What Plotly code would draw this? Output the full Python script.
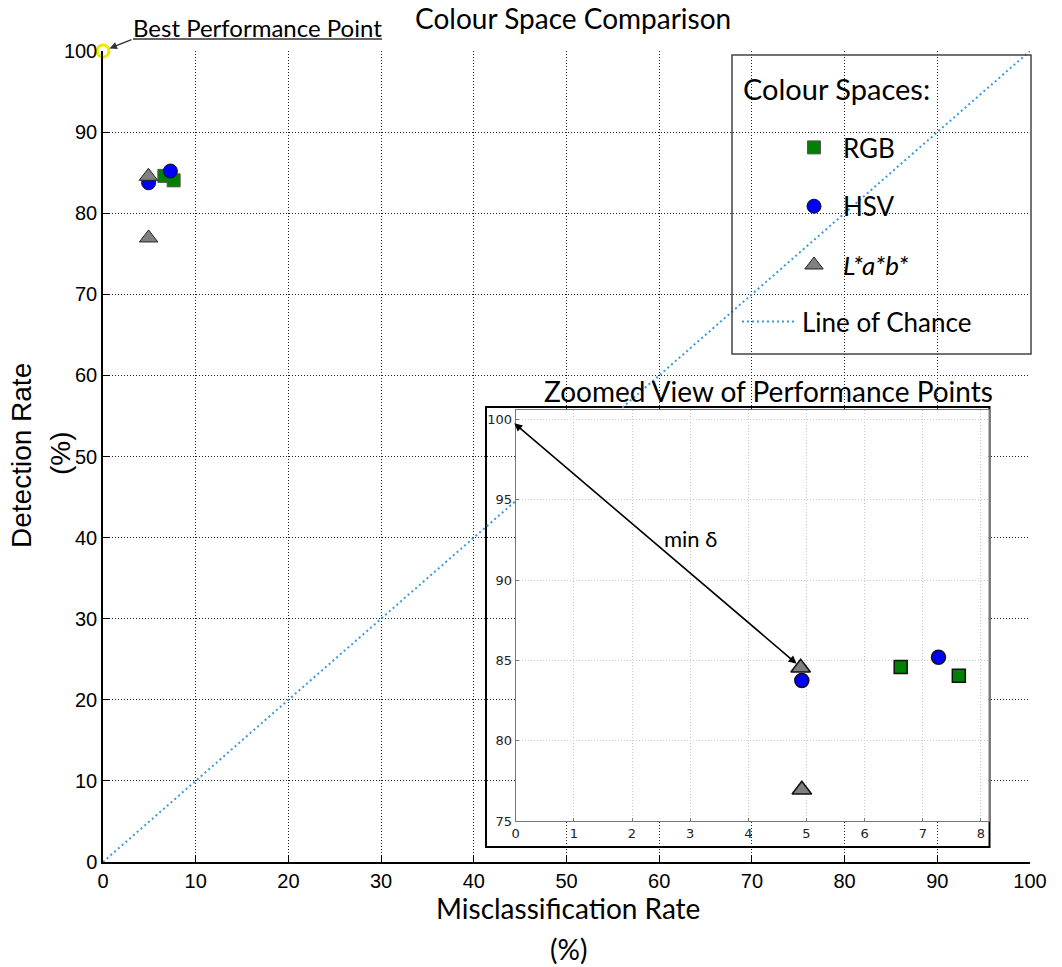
import plotly.graph_objects as go

# ---- data ----
rgb_x = [6.62, 7.62]
rgb_y = [84.6, 84.05]
hsv_x = [4.92, 7.27]
hsv_y = [83.75, 85.2]
lab_x = [4.90, 4.92]
lab_y = [84.55, 76.95]
best_x = [0]
best_y = [100]
chance_x = [0, 100]
chance_y = [0, 100]

main_ticks = list(range(0, 101, 10))
inset_xticks = list(range(0, 9))
inset_yticks = [75, 80, 85, 90, 95, 100]

CAL = "Lato, 'Open Sans', sans-serif"
ARIAL = "'Liberation Sans', Arial, sans-serif"

L, R, T, B = 103, 32, 51, 105
W, H = 1062, 967
PW, PH = W - L - R, H - T - B


def px(x):
    return (x - L) / PW


def py(y):
    return (H - B - y) / PH


fig = go.Figure()

# ---- main subplot ----
fig.add_trace(go.Scatter(x=chance_x, y=chance_y, mode="lines", name="Line of Chance",
                         line=dict(color="#3b9ad8", width=2, dash="2px,3px"),
                         legend="legend2", showlegend=True))
fig.add_trace(go.Scatter(x=rgb_x, y=rgb_y, mode="markers", name="RGB",
                         marker=dict(symbol="square", size=13, color="#008000",
                                     line=dict(color="#555", width=1)),
                         legendgroup="rgb"))
fig.add_trace(go.Scatter(x=hsv_x, y=hsv_y, mode="markers", name="HSV",
                         marker=dict(symbol="circle", size=14, color="#0000ff",
                                     line=dict(color="#111", width=1)),
                         legendgroup="hsv"))
fig.add_trace(go.Scatter(x=lab_x, y=lab_y, mode="markers", name="<i>L*a*b*</i>",
                         marker=dict(symbol="triangle-up", size=16, color="#808080",
                                     line=dict(color="#222", width=1)),
                         legendgroup="lab"))
fig.add_trace(go.Scatter(x=best_x, y=best_y, mode="markers", showlegend=False,
                         cliponaxis=False,
                         marker=dict(symbol="circle", size=12, color="white",
                                     line=dict(color="#f2e600", width=3))))

# ---- inset subplot ----
fig.add_trace(go.Scatter(x=rgb_x, y=rgb_y, mode="markers", xaxis="x2", yaxis="y2",
                         showlegend=False,
                         marker=dict(symbol="square", size=13, color="#008000",
                                     line=dict(color="#111", width=1.5))))
fig.add_trace(go.Scatter(x=hsv_x, y=hsv_y, mode="markers", xaxis="x2", yaxis="y2",
                         showlegend=False,
                         marker=dict(symbol="circle", size=14, color="#0000ff",
                                     line=dict(color="#111", width=1.5))))
fig.add_trace(go.Scatter(x=lab_x, y=lab_y, mode="markers", xaxis="x2", yaxis="y2",
                         showlegend=False,
                         marker=dict(symbol="triangle-up", size=17, color="#808080",
                                     line=dict(color="#111", width=1.5))))

# closest point to the best performance point
pts = list(zip(rgb_x + hsv_x + lab_x, rgb_y + hsv_y + lab_y))
mx, my = min(pts, key=lambda p: (p[0] - best_x[0]) ** 2 + (p[1] - best_y[0]) ** 2)

axis_main = dict(range=[0, 100], tickvals=main_ticks, showline=True, linecolor="black",
                 linewidth=1.5, ticks="inside", ticklen=7, tickcolor="black",
                 showgrid=True, gridcolor="#222", griddash="1px,2px", gridwidth=1,
                 zeroline=False, tickfont=dict(family=ARIAL, size=20, color="black"))
IX0, IX1 = 515.7, 988.5
IY0, IY1 = 821, 410
inset_axis = dict(showline=True, mirror=True, linecolor="#777", linewidth=1.2,
                  ticks="inside", ticklen=3, tickcolor="#777", showgrid=True,
                  gridcolor="#c8c8c8", griddash="1px,2px", zeroline=False,
                  tickfont=dict(family="DejaVu Sans", size=13, color="#222"))
fig.update_layout(
    width=W, height=H,
    margin=dict(l=L, r=R, t=T, b=B),
    paper_bgcolor="white", plot_bgcolor="white",
    xaxis=dict(axis_main, domain=[0, 1]),
    yaxis=dict(axis_main, domain=[0, 1]),
    xaxis2=dict(inset_axis, domain=[px(IX0), px(IX1)], anchor="y2", range=[0, 8.13],
                tickvals=inset_xticks),
    yaxis2=dict(inset_axis, domain=[py(IY0), py(IY1)], anchor="x2", range=[75, 100.6],
                tickvals=inset_yticks),
    showlegend=True,
    legend=dict(x=px(785), y=py(124), xanchor="left", yanchor="top",
                bgcolor="rgba(0,0,0,0)", borderwidth=0, tracegroupgap=22, itemwidth=48,
                font=dict(family=CAL, size=26, color="black"), itemsizing="trace"),
    legend2=dict(x=px(737), y=py(298), xanchor="left", yanchor="top",
                 bgcolor="rgba(0,0,0,0)", borderwidth=0, itemwidth=55,
                 font=dict(family=CAL, size=26, color="black")),
)

fig.update_layout(shapes=[
    # white backing + border of the inset
    dict(type="rect", xref="x2 domain", yref="y2 domain",
         x0=(486 - IX0) / (IX1 - IX0), x1=(989.5 - IX0) / (IX1 - IX0),
         y0=(IY0 - 847) / (IY0 - IY1), y1=(IY0 - 407) / (IY0 - IY1),
         fillcolor="white", line=dict(color="black", width=2), layer="below"),
    # legend box
    dict(type="rect", xref="paper", yref="paper", x0=px(732), x1=px(1031),
         y0=py(354), y1=py(55), line=dict(color="#444", width=1.5),
         fillcolor="rgba(0,0,0,0)", layer="above"),
    # underline for "Best Performance Point"
    dict(type="line", xref="paper", yref="paper", x0=px(133), x1=px(382),
         y0=py(39), y1=py(39), line=dict(color="#333", width=1.5)),
])


def ann(text, x, y, size, family=CAL, **kw):
    d = dict(text=text, xref="paper", yref="paper", x=px(x), y=py(y), showarrow=False,
             xanchor="center", yanchor="middle",
             font=dict(family=family, size=size, color="black"))
    d.update(kw)
    return d


fig.update_layout(annotations=[
    ann("Colour Space Comparison", 573, 18, 28),
    ann("Misclassification Rate", 568, 908, 28),
    ann("(%)", 568, 949, 28),
    ann("Detection Rate", 22, 456, 28, family=ARIAL, textangle=-90),
    ann("(%)", 60, 453, 28, family=ARIAL, textangle=-90),
    ann("Colour Spaces:", 741, 88, 29, xanchor="left"),
    ann("Zoomed View of Performance Points", 768, 391, 28),
    ann("Best Performance Point", 257, 27, 24),
    dict(text="", x=best_x[0], y=best_y[0], xref="x", yref="y", showarrow=True,
         ax=30, ay=-12, standoff=7, arrowhead=2, arrowsize=1, arrowwidth=1.5,
         arrowcolor="#333"),
    dict(text="", x=mx - 0.07, y=my + 0.25, xref="x2", yref="y2",
         ax=best_x[0] - 0.05, ay=best_y[0] - 0.15, axref="x2", ayref="y2",
         showarrow=True, arrowhead=2, startarrowhead=2, arrowside="end+start",
         arrowsize=1, arrowwidth=1.6, arrowcolor="black"),
    dict(text="min δ", x=3.0, y=92.6, xref="x2", yref="y2", showarrow=False,
         font=dict(family=CAL, size=22, color="black")),
])

fig.write_html("out.html", config={"displayModeBar": False},
               post_script="document.body.style.margin='0';")
